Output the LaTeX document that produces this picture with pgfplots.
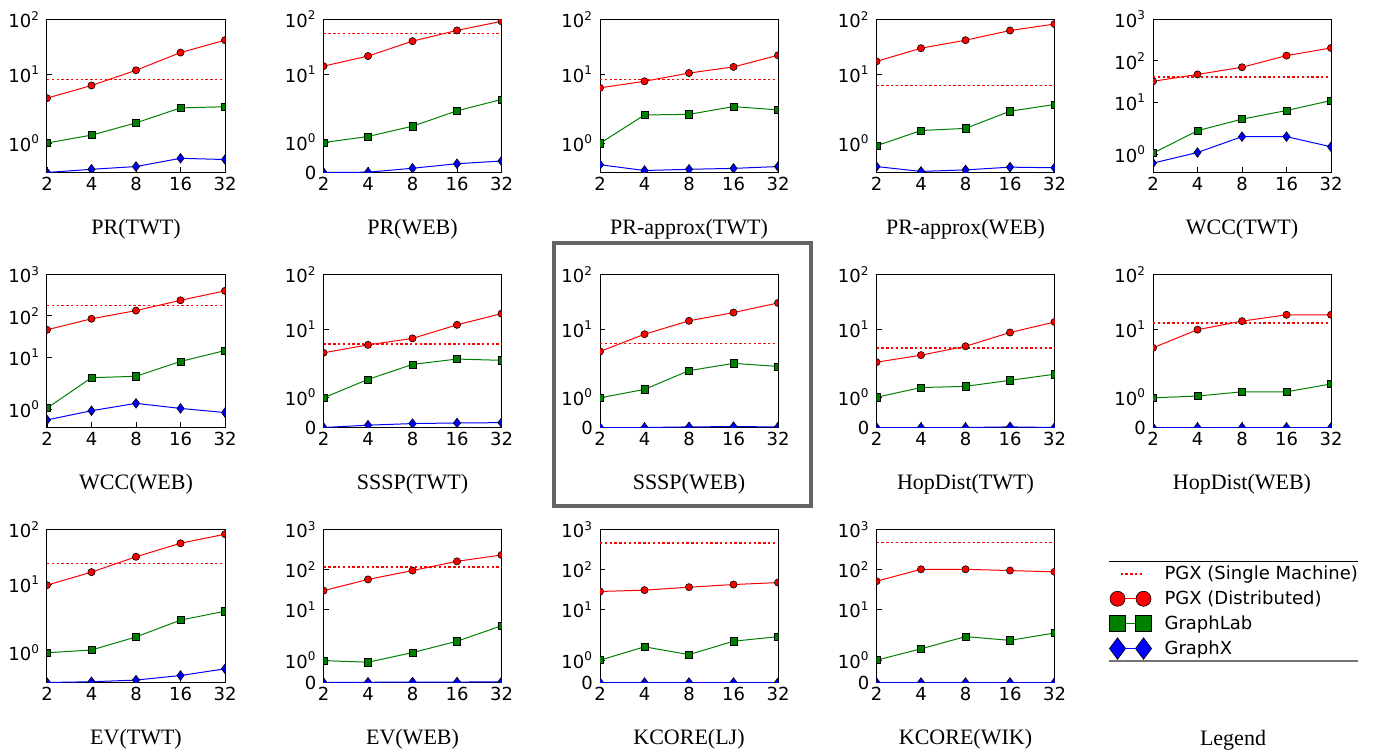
\documentclass[border=0pt]{standalone}
\usepackage{fontspec}
\setmainfont{Liberation Serif}
\newfontfamily\dvs{DejaVu Sans}
\usepackage{pgfplots}
\pgfplotsset{compat=1.18}
\definecolor{mplred}{RGB}{255,0,0}
\definecolor{mplgreen}{RGB}{0,128,0}
\definecolor{mplblue}{RGB}{0,0,255}
\definecolor{frame}{RGB}{100,100,100}

% x: machines 2,4,8,16,32 plotted at positions 1..5
\pgfplotsset{
  panel/.style={
    scale only axis, width=89pt, height=76.5pt, anchor=south west,
    xmin=1, xmax=5,
    xtick={1,2,3,4,5}, xticklabels={2,4,8,16,32},
    % symlog, linthresh 2, linscale 1 (in decades)
    y coord trafo/.code={\pgfmathparse{##1<2 ? 0.5556*##1 : 0.8101+ln(max(##1,0.001))/2.302585}},
    tick label style={font=\dvs\fontsize{9}{9}\selectfont},
    axis line style={line width=0.5pt},
    major tick length=2.5pt, tick style={black, line width=0.4pt},
    xtick pos=bottom, ytick pos=left,
    clip marker paths=true,
    xticklabel style={yshift=1pt},
    every axis x label/.style={at={(axis description cs:0.5,0)}, anchor=center,
      yshift=-28.5pt, font=\fontsize{11}{11}\selectfont},
  },
  ztwo/.style={ymin=0, ymax=100, ytick={0,1,10,100},
    yticklabels={0,10\textsuperscript{0},10\textsuperscript{1},10\textsuperscript{2}}},
  zthree/.style={ymin=0, ymax=1000, ytick={0,1,10,100,1000},
    yticklabels={0,10\textsuperscript{0},10\textsuperscript{1},10\textsuperscript{2},10\textsuperscript{3}}},
  ntwo/.style={ymin=#1, ymax=100, ytick={1,10,100},
    yticklabels={10\textsuperscript{0},10\textsuperscript{1},10\textsuperscript{2}}},
  nthree/.style={ymin=#1, ymax=1000, ytick={1,10,100,1000},
    yticklabels={10\textsuperscript{0},10\textsuperscript{1},10\textsuperscript{2},10\textsuperscript{3}}},
  pgxsm/.style={draw=mplred, line width=0.7pt, dash pattern=on 1.2pt off 1.2pt, mark=none},
  pgxd/.style={color=mplred, line width=0.5pt, mark=*, mark size=1.8pt,
    mark options={fill=mplred, draw=black, line width=0.3pt, solid}},
  glab/.style={color=mplgreen, line width=0.5pt, mark=square*, mark size=1.8pt,
    mark options={fill=mplgreen, draw=black, line width=0.3pt, solid}},
  gx/.style={color=mplblue, line width=0.5pt, mark=diamond*, mark size=2.4pt,
    mark options={fill=mplblue, draw=black, line width=0.3pt, solid}},
  pairlegend/.style={legend image code/.code={\draw[##1] plot coordinates {(0pt,0pt) (13pt,0pt)};}},
  dotlegend/.style={legend image code/.code={\draw[##1] (1.5pt,0pt) -- (12pt,0pt);}},
}

\begin{document}
\begin{tikzpicture}
\path[use as bounding box] (0,0) rectangle (687.5pt,375pt);

% ---- row 1
\begin{axis}[panel, ntwo=0.045, at={(23.5pt,288.75pt)}, xlabel={PR(TWT)}]
\addplot[pgxsm] coordinates {(1,8.0) (5,8.0)};
\addplot[pgxd] coordinates {(1,3.7) (2,6.3) (3,11.9) (4,25) (5,42)};
\addplot[glab] coordinates {(1,1.01) (2,1.27) (3,1.67) (4,2.46) (5,2.58)};
\addplot[gx] coordinates {(1,0.045) (2,0.15) (3,0.24) (4,0.51) (5,0.47)};
\end{axis}
\begin{axis}[panel, ztwo, at={(161.75pt,288.75pt)}, xlabel={PR(WEB)}]
\addplot[pgxsm] coordinates {(1,55) (5,55)};
\addplot[pgxd] coordinates {(1,13.9) (2,21.3) (3,40) (4,63) (5,92.6)};
\addplot[glab] coordinates {(1,0.99) (2,1.19) (3,1.53) (4,2.1) (5,3.4)};
\addplot[gx] coordinates {(1,0) (2,0.01) (3,0.14) (4,0.29) (5,0.38)};
\end{axis}
\begin{axis}[panel, ntwo=0.045, at={(300pt,288.75pt)}, xlabel={PR-approx(TWT)}]
\addplot[pgxsm] coordinates {(1,8.0) (5,8.0)};
\addplot[pgxd] coordinates {(1,5.7) (2,7.5) (3,10.6) (4,13.7) (5,22.3)};
\addplot[glab] coordinates {(1,1.0) (2,1.93) (3,1.95) (4,2.6) (5,2.26)};
\addplot[gx] coordinates {(1,0.30) (2,0.11) (3,0.15) (4,0.18) (5,0.24)};
\end{axis}
\begin{axis}[panel, ntwo=0.045, at={(438.25pt,288.75pt)}, xlabel={PR-approx(WEB)}]
\addplot[pgxsm] coordinates {(1,6.3) (5,6.3)};
\addplot[pgxd] coordinates {(1,17.3) (2,30) (3,42) (4,63) (5,82.6)};
\addplot[glab] coordinates {(1,0.92) (2,1.42) (3,1.49) (4,2.14) (5,2.84)};
\addplot[gx] coordinates {(1,0.24) (2,0.08) (3,0.13) (4,0.22) (5,0.20)};
\end{axis}
\begin{axis}[panel, nthree=0.2, at={(576.5pt,288.75pt)}, xlabel={WCC(TWT)}]
\addplot[pgxsm] coordinates {(1,41) (5,41)};
\addplot[pgxd] coordinates {(1,32) (2,47) (3,70) (4,134) (5,205)};
\addplot[glab] coordinates {(1,1.04) (2,2.05) (3,3.9) (4,6.3) (5,11)};
\addplot[gx] coordinates {(1,0.61) (2,1.07) (3,1.76) (4,1.76) (5,1.32)};
\end{axis}

% ---- row 2
\begin{axis}[panel, nthree=0.2, at={(23.5pt,161.25pt)}, xlabel={WCC(WEB)}]
\addplot[pgxsm] coordinates {(1,180) (5,180)};
\addplot[pgxd] coordinates {(1,46) (2,85) (3,134) (4,238) (5,402)};
\addplot[glab] coordinates {(1,1.04) (2,3.2) (3,3.46) (4,7.9) (5,14.5)};
\addplot[gx] coordinates {(1,0.53) (2,0.93) (3,1.25) (4,1.03) (5,0.85)};
\end{axis}
\begin{axis}[panel, ztwo, at={(161.75pt,161.25pt)}, xlabel={SSSP(TWT)}]
\addplot[pgxsm] coordinates {(1,5.3) (5,5.3)};
\addplot[pgxd] coordinates {(1,3.65) (2,5.1) (3,6.7) (4,11.9) (5,19.1)};
\addplot[glab] coordinates {(1,0.98) (2,1.59) (3,2.23) (4,2.8) (5,2.65)};
\addplot[gx] coordinates {(1,0) (2,0.077) (3,0.13) (4,0.15) (5,0.16)};
\end{axis}
\begin{axis}[panel, ztwo, at={(300pt,161.25pt)}, xlabel={SSSP(WEB)}]
\addplot[pgxsm] coordinates {(1,5.4) (5,5.4)};
\addplot[pgxd] coordinates {(1,3.86) (2,8.0) (3,14.1) (4,20) (5,30)};
\addplot[glab] coordinates {(1,0.98) (2,1.26) (3,1.88) (4,2.33) (5,2.05)};
\addplot[gx] coordinates {(1,0) (2,0) (3,0.02) (4,0.03) (5,0.02)};
\end{axis}
\begin{axis}[panel, ztwo, at={(438.25pt,161.25pt)}, xlabel={HopDist(TWT)}]
\addplot[pgxsm] coordinates {(1,4.5) (5,4.5)};
\addplot[pgxd] coordinates {(1,2.45) (2,3.3) (3,4.8) (4,8.6) (5,13.4)};
\addplot[glab] coordinates {(1,1.0) (2,1.32) (3,1.36) (4,1.56) (5,1.76)};
\addplot[gx] coordinates {(1,0) (2,0) (3,0) (4,0.02) (5,0)};
\end{axis}
\begin{axis}[panel, ztwo, at={(576.5pt,161.25pt)}, xlabel={HopDist(WEB)}]
\addplot[pgxsm] coordinates {(1,12.8) (5,12.8)};
\addplot[pgxd] coordinates {(1,4.5) (2,9.7) (3,13.9) (4,18.2) (5,18.2)};
\addplot[glab] coordinates {(1,0.98) (2,1.04) (3,1.18) (4,1.18) (5,1.44)};
\addplot[gx] coordinates {(1,0) (2,0) (3,0) (4,0) (5,0)};
\end{axis}

% ---- row 3
\begin{axis}[panel, ntwo=0.02, at={(23.5pt,33.75pt)}, xlabel={EV(TWT)}]
\addplot[pgxsm] coordinates {(1,24) (5,24)};
\addplot[pgxd] coordinates {(1,9.6) (2,16.6) (3,31.7) (4,56) (5,82)};
\addplot[glab] coordinates {(1,1.0) (2,1.09) (3,1.52) (4,2.2) (5,3.2)};
\addplot[gx] coordinates {(1,0.02) (2,0.045) (3,0.10) (4,0.25) (5,0.47)};
\end{axis}
\begin{axis}[panel, zthree, at={(161.75pt,33.75pt)}, xlabel={EV(WEB)}]
\addplot[pgxsm] coordinates {(1,117) (5,117)};
\addplot[pgxd] coordinates {(1,30) (2,57) (3,95) (4,161) (5,232)};
\addplot[glab] coordinates {(1,0.98) (2,0.91) (3,1.34) (4,1.85) (5,4.0)};
\addplot[gx] coordinates {(1,0) (2,0.01) (3,0.02) (4,0.02) (5,0.03)};
\end{axis}
\begin{axis}[panel, zthree, at={(300pt,33.75pt)}, xlabel={KCORE(LJ)}]
\addplot[pgxsm] coordinates {(1,460) (5,460)};
\addplot[pgxd] coordinates {(1,28.6) (2,30.9) (3,36.6) (4,42.6) (5,47.7)};
\addplot[glab] coordinates {(1,1.0) (2,1.6) (3,1.25) (4,1.85) (5,2.15)};
\addplot[gx] coordinates {(1,0) (2,0) (3,0) (4,0) (5,0)};
\end{axis}
\begin{axis}[panel, zthree, at={(438.25pt,33.75pt)}, xlabel={KCORE(WIK)}]
\addplot[pgxsm] coordinates {(1,469) (5,469)};
\addplot[pgxd] coordinates {(1,51.6) (2,102) (3,102) (4,95) (5,88)};
\addplot[glab] coordinates {(1,1.0) (2,1.51) (3,2.15) (4,1.89) (5,2.65)};
\addplot[gx] coordinates {(1,0) (2,0) (3,0) (4,0) (5,0)};
\end{axis}

% ---- legend cell
\begin{axis}[at={(554.5pt,44.5pt)}, anchor=south west, scale only axis,
  width=124.5pt, height=50pt, hide axis, xmin=0, xmax=1, ymin=0, ymax=1,
  legend cell align=left,
  legend style={at={(rel axis cs:0,1)}, anchor=north west, draw=none, fill=none,
    inner sep=0pt, row sep=0pt, font=\dvs\fontsize{9}{9}\selectfont,
    nodes={inner sep=1.5pt, text height=7.45pt, text depth=2pt},
    /tikz/every odd column/.append style={column sep=5pt}}]
\addlegendimage{pgxsm, dotlegend}
\addlegendentry{PGX (Single Machine)}
\addlegendimage{pgxd, mark size=3.75pt, pairlegend}
\addlegendentry{PGX (Distributed)}
\addlegendimage{glab, mark size=4pt, pairlegend}
\addlegendentry{GraphLab}
\addlegendimage{gx, mark size=5.4pt, pairlegend}
\addlegendentry{GraphX}
\end{axis}
\draw[black, line width=0.5pt] (554.5pt,94.5pt) -- (679pt,94.5pt);
\draw[black!55, line width=1pt] (554.5pt,44.5pt) -- (679pt,44.5pt);
\node[font=\fontsize{11}{11}\selectfont] at (616.5pt,5pt) {Legend};

% highlighted panel
\draw[frame, line width=2pt] (277pt,122pt) rectangle (405.5pt,253.5pt);
\end{tikzpicture}
\end{document}
